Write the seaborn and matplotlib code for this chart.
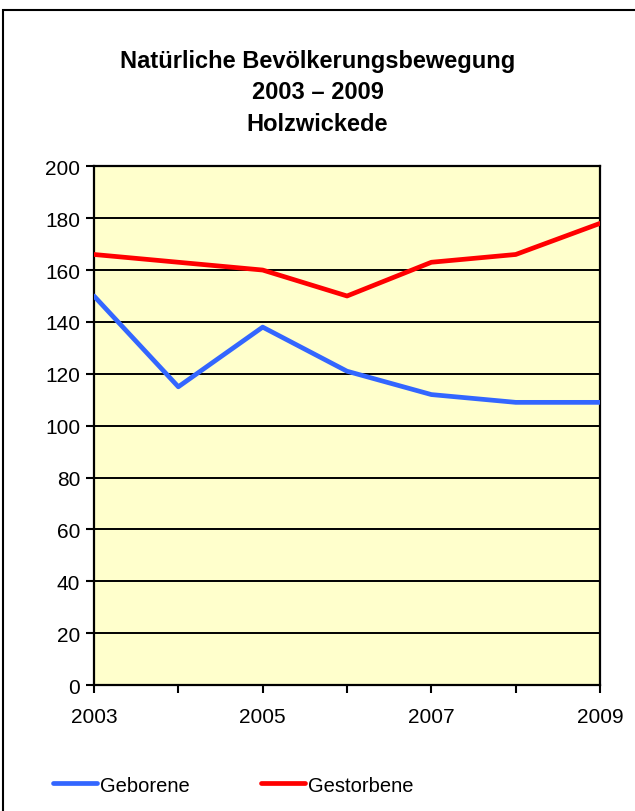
import pandas as pd
import numpy as np
import matplotlib
matplotlib.use("Agg")
import matplotlib.pyplot as plt
import seaborn as sns

years = [2003, 2004, 2005, 2006, 2007, 2008, 2009]
geborene = [150, 115, 138, 121, 112, 109, 109]
gestorbene = [166, 163, 160, 150, 163, 166, 178]
series_names = ["Geborene", "Gestorbene"]
x_labels = ["2003", "", "2005", "", "2007", "", "2009"]
y_ticks = list(range(0, 201, 20))

df = pd.DataFrame({
    "Jahr": years * 2,
    "Anzahl": geborene + gestorbene,
    "Reihe": [series_names[0]] * len(years) + [series_names[1]] * len(years),
})

sns.set_style("white")
plt.rcParams["font.family"] = ["Liberation Sans", "DejaVu Sans"]
plt.rcParams["text.color"] = "black"

fig = plt.figure(figsize=(6.35, 8.12), dpi=100)
ax = fig.add_axes([0.148, 0.155, 0.797, 0.639])
ax.set_facecolor("#FFFFCC")

sns.lineplot(data=df, x="Jahr", y="Anzahl", hue="Reihe",
             palette=["#3366FF", "#FF0000"], linewidth=3.4, ax=ax,
             legend=False, zorder=3)

ax.set_xlim(years[0], years[-1])
ax.set_ylim(0, 200)
ax.set_xticks(years)
ax.set_xticklabels(x_labels)
ax.set_yticks(y_ticks)
ax.yaxis.grid(True, color="black", linewidth=1.4)
ax.set_axisbelow(True)
ax.tick_params(axis="both", direction="out", length=6, width=1.5,
               labelsize=15, colors="black", left=True, bottom=True)
ax.tick_params(axis="x", pad=10)
ax.tick_params(axis="y", pad=4)
for s in ax.spines.values():
    s.set_color("black")
    s.set_linewidth(1.6)
ax.set_xlabel("")
ax.set_ylabel("")

fig.text(0.5, 0.8855, "Natürliche Bevölkerungsbewegung\n2003 – 2009\nHolzwickede",
         ha="center", va="center", fontsize=17, fontweight="bold",
         linespacing=1.45, color="black")

handles = [plt.Line2D([], [], color="#3366FF", linewidth=3.4),
           plt.Line2D([], [], color="#FF0000", linewidth=3.4)]
leg = fig.legend(handles, series_names, loc="center left",
                 bbox_to_anchor=(0.055, 0.032), ncol=2, frameon=False,
                 fontsize=14.5, handlelength=2.2, handletextpad=0.15,
                 columnspacing=3.5)
for t in leg.get_texts():
    t.set_color("black")

fig.patches.append(plt.Rectangle((0.005, -0.01), 1.1, 0.997, transform=fig.transFigure,
                                 fill=False, edgecolor="black", linewidth=1.5))

plt.savefig("out.png", dpi=100)
